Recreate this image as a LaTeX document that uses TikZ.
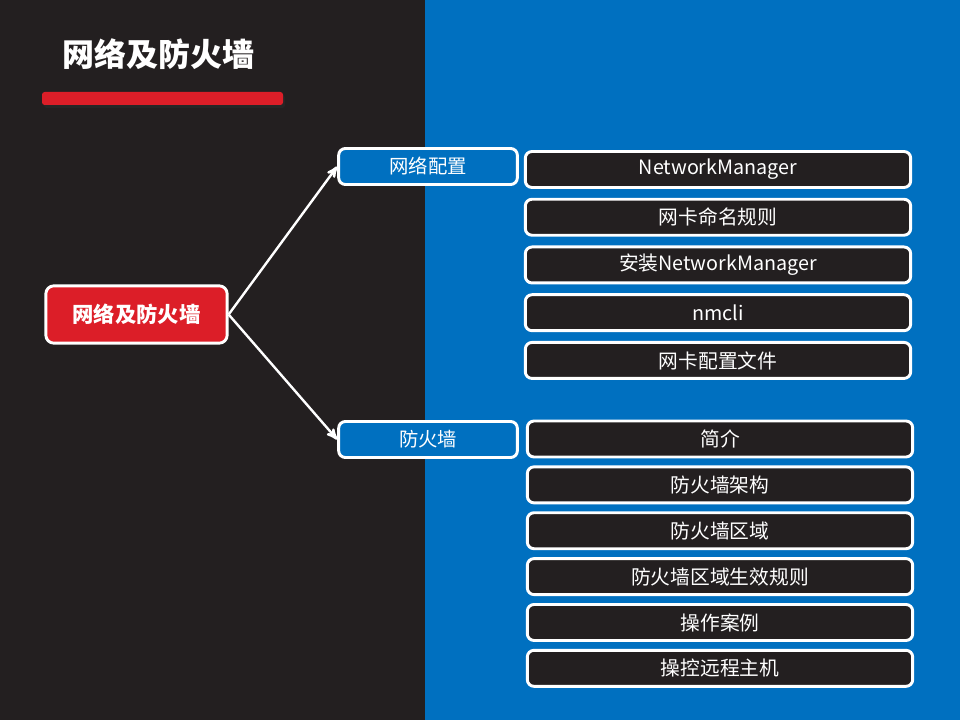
\documentclass[tikz,border=0pt]{standalone}
\usepackage{fontspec}
\setmainfont{Noto Sans CJK SC}
\usetikzlibrary{arrows,positioning}
\definecolor{darkbg}{HTML}{231F20}
\definecolor{bluebg}{HTML}{0070C0}
\definecolor{redbox}{HTML}{DC1E28}

\begin{document}
\begin{tikzpicture}[x=0.75pt,y=-0.75pt,>=stealth',
                    root/.style={draw=white,line width=2.2pt,fill=redbox,rounded corners=6pt,
                                 minimum width=136pt,minimum height=43pt,
                                 text=white,font=\fontsize{16}{18}\selectfont\bfseries},
                    topic/.style={draw=white,line width=2.2pt,fill=bluebg,rounded corners=5pt,
                                  minimum width=134pt,minimum height=27pt,
                                  text=white,font=\fontsize{14.5}{16}\selectfont},
                    item/.style={draw=white,line width=2.2pt,fill=darkbg,rounded corners=5pt,
                                 minimum width=289pt,minimum height=27pt,
                                 text=white,font=\fontsize{14.8}{16}\selectfont},
                    link/.style={->,draw=white,line width=1.8pt}]

  % background halves
  \useasboundingbox (0,0) rectangle (960,720);
  \fill[darkbg] (0,0) rectangle (425,720);
  \fill[bluebg] (425,0) rectangle (960,720);

  % heading
  \node[text=white,font=\fontsize{24}{28}\selectfont\bfseries] (title) at (158,54) {网络及防火墙};
  \fill[black!85,rounded corners=2pt] (44,95) rectangle (285,108);
  \fill[redbox,rounded corners=2pt] (42,92) rectangle (283,105);

  % mind map
  \node[root]  (fw0)  at (136.5,314.5) {网络及防火墙};
  \node[topic] (net)  at (428,166.5)   {网络配置};
  \node[topic] (fire) at (428,439.5)   {防火墙};

  \node[item] (nm)      at (718,169.5)                 {NetworkManager};
  \node[item] (naming)  [below=6.6pt of nm]            {网卡命名规则};
  \node[item] (install) [below=6.6pt of naming]        {安装NetworkManager};
  \node[item] (nmcli)   [below=6.6pt of install]       {nmcli};
  \node[item] (ifcfg)   [below=6.6pt of nmcli]         {网卡配置文件};

  \node[item] (intro)   at (720,439)                   {简介};
  \node[item] (arch)    [below=5.2pt of intro]         {防火墙架构};
  \node[item] (zone)    [below=5.2pt of arch]          {防火墙区域};
  \node[item] (rules)   [below=5.2pt of zone]          {防火墙区域生效规则};
  \node[item] (cases)   [below=5.2pt of rules]         {操作案例};
  \node[item] (remote)  [below=5.2pt of cases]         {操控远程主机};

  \path (fw0.east) edge[link] (net.west)
        (fw0.east) edge[link] (fire.west);

\end{tikzpicture}
\end{document}
